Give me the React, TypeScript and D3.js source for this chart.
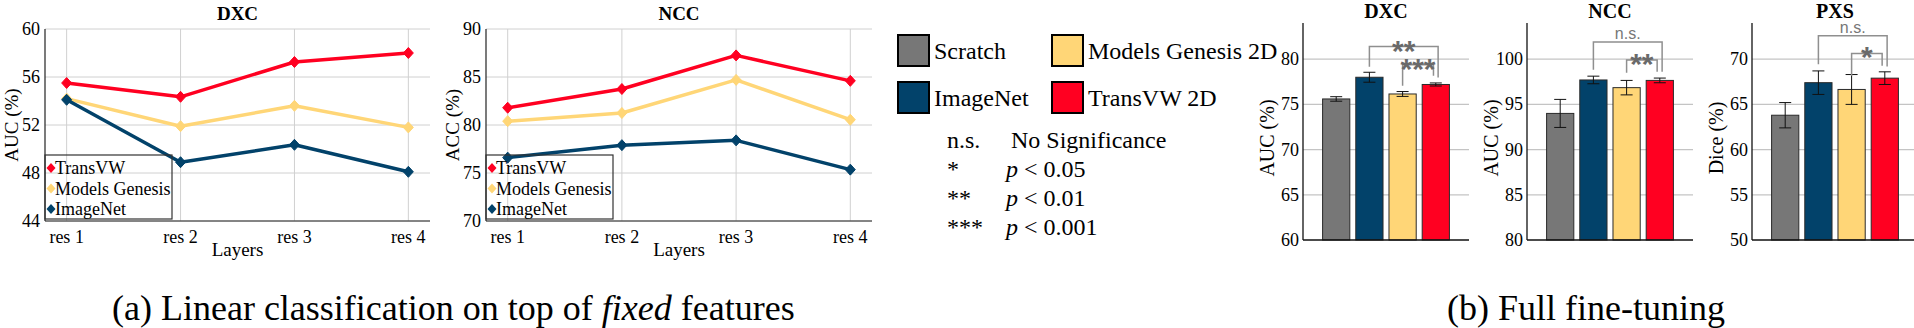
import * as d3 from "d3";

const SERIF = "'Liberation Serif', 'Times New Roman', serif";
const SANS = "'Liberation Sans', Arial, sans-serif";

const RED = "#ff0021";
const YELLOW = "#ffd677";
const NAVY = "#02426a";
const GRAY = "#777777";

// (a) linear classification on fixed features
const layers = ["res 1", "res 2", "res 3", "res 4"];
const dxcTransVW = [55.5, 54.35, 57.25, 58.0];
const dxcGenesis = [54.2, 51.9, 53.6, 51.8];
const dxcImageNet = [54.1, 48.9, 50.35, 48.1];
const nccTransVW = [81.8, 83.75, 87.25, 84.6];
const nccGenesis = [80.4, 81.25, 84.7, 80.55];
const nccImageNet = [76.6, 77.9, 78.4, 75.35];
const dxcLineTicks = [44, 48, 52, 56, 60];
const nccLineTicks = [70, 75, 80, 85, 90];

// (b) full fine-tuning
const methods = ["Scratch", "ImageNet", "Models Genesis 2D", "TransVW 2D"];
const methodColors = [GRAY, NAVY, YELLOW, RED];
const dxcBar = [75.6, 78.0, 76.15, 77.2];
const dxcErr = [0.25, 0.55, 0.27, 0.17];
const nccBar = [94.0, 97.7, 96.85, 97.65];
const nccErr = [1.55, 0.42, 0.8, 0.26];
const pxsBar = [63.8, 67.4, 66.65, 67.9];
const pxsErr = [1.4, 1.3, 1.65, 0.7];
const dxcBarTicks = [60, 65, 70, 75, 80];
const nccBarTicks = [80, 85, 90, 95, 100];
const pxsBarTicks = [50, 55, 60, 65, 70];

// brackets: bar index (1-based) of each leg, bracket level and leg ends in data units
const dxcSig = [
  { a: 2, b: 4.07, y: 81.4, ya: 79.16, yb: 77.98, label: "**" },
  { a: 3, b: 3.93, y: 79.38, ya: 77.07, yb: 78.17, label: "***" },
];
const nccSig = [
  { a: 2, b: 4.07, y: 101.9, ya: 98.83, yb: 98.6, label: "n.s." },
  { a: 3, b: 3.92, y: 99.9, ya: 98.5, yb: 98.6, label: "**" },
];
const pxsSig = [
  { a: 2, b: 4.07, y: 72.6, ya: 69.45, yb: 69.2, label: "n.s." },
  { a: 3, b: 3.92, y: 70.63, ya: 68.17, yb: 69.27, label: "*" },
];

const pValues = [
  ["n.s.", "No Significance"],
  ["*", "< 0.05"],
  ["**", "< 0.01"],
  ["***", "< 0.001"],
];

const diamond = (cx, cy, w = 5, h = 5.5) =>
  `M${cx},${cy - h}L${cx + w},${cy}L${cx},${cy + h}L${cx - w},${cy}Z`;

const LineChart = ({ left, right, title, ylabel, ticks, series }) => {
  const top = 29;
  const bottom = 221;
  const x = d3.scaleLinear().domain([0.81, 4.19]).range([left, right]);
  const y = d3
    .scaleLinear()
    .domain([ticks[0], ticks[ticks.length - 1]])
    .range([bottom, top]);
  const line = d3
    .line()
    .x((d, i) => x(i + 1))
    .y((d) => y(d));
  const legendTop = 155;
  return (
    <g>
      {ticks.map((t) => (
        <line key={"h" + t} x1={left} x2={right} y1={y(t)} y2={y(t)} stroke="#d0d0d0" strokeWidth={1} />
      ))}
      {layers.map((l, i) => (
        <line key={"v" + l} x1={x(i + 1)} x2={x(i + 1)} y1={top} y2={bottom} stroke="#d0d0d0" strokeWidth={1} />
      ))}
      <line x1={left} x2={left} y1={top} y2={bottom} stroke="#222" strokeWidth={1.2} />
      <line x1={left} x2={right} y1={bottom} y2={bottom} stroke="#222" strokeWidth={1.2} />
      {ticks.map((t) => (
        <text key={"t" + t} x={left - 5} y={y(t)} textAnchor="end" dominantBaseline="central" fontSize={18} fontFamily={SERIF}>
          {t}
        </text>
      ))}
      {layers.map((l, i) => (
        <text key={"l" + l} x={x(i + 1)} y={243} textAnchor="middle" fontSize={18} fontFamily={SERIF}>
          {l}
        </text>
      ))}
      <text x={(left + right) / 2} y={256} textAnchor="middle" fontSize={19} fontFamily={SERIF}>
        Layers
      </text>
      <text x={(left + right) / 2} y={20} textAnchor="middle" fontSize={19} fontWeight="bold" fontFamily={SERIF}>
        {title}
      </text>
      <text
        transform={`translate(${left - 34},${(top + bottom) / 2}) rotate(-90)`}
        textAnchor="middle"
        dominantBaseline="central"
        fontSize={19}
        fontFamily={SERIF}
      >
        {ylabel}
      </text>
      {series.map((s) => (
        <g key={s.name}>
          <path d={line(s.values)} fill="none" stroke={s.color} strokeWidth={3.5} strokeLinejoin="round" />
          {s.values.map((v, i) => (
            <path key={i} d={diamond(x(i + 1), y(v))} fill={s.color} stroke={s.color} strokeWidth={1} />
          ))}
        </g>
      ))}
      <rect x={left} y={legendTop} width={127} height={64} fill="none" stroke="#333" strokeWidth={1.2} />
      {series.map((s, i) => (
        <g key={"lg" + s.name}>
          <path d={diamond(left + 6, legendTop + 13 + i * 20.5, 4.5, 5)} fill={s.color} />
          <text x={left + 10} y={legendTop + 13 + i * 20.5} dominantBaseline="central" fontSize={18} fontFamily={SERIF}>
            {s.name}
          </text>
        </g>
      ))}
    </g>
  );
};

const BarChart = ({ left, title, ylabel, ticks, values, errs, sig }) => {
  const right = left + 166;
  const top = 23;
  const bottom = 240;
  const x = d3.scaleLinear().domain([0, 5]).range([left, right]);
  const y = d3
    .scaleLinear()
    .domain([ticks[0], ticks[0] + 24])
    .range([bottom, top]);
  const bw = x(0.82) - x(0);
  return (
    <g>
      {ticks.slice(1).map((t) => (
        <line key={"g" + t} x1={left} x2={right} y1={y(t)} y2={y(t)} stroke="#c4c4c4" strokeWidth={1.3} />
      ))}
      {ticks.map((t) => (
        <text key={"t" + t} x={left - 4} y={y(t)} textAnchor="end" dominantBaseline="central" fontSize={18} fontFamily={SERIF}>
          {t}
        </text>
      ))}
      {values.map((v, i) => (
        <rect
          key={"b" + i}
          x={x(i + 1) - bw / 2}
          y={y(v)}
          width={bw}
          height={bottom - y(v)}
          fill={methodColors[i]}
          stroke="#2a2a2a"
          strokeWidth={1}
        />
      ))}
      {values.map((v, i) => (
        <g key={"e" + i} stroke="#111" strokeWidth={1}>
          <line x1={x(i + 1)} x2={x(i + 1)} y1={y(v + errs[i])} y2={y(v - errs[i])} />
          <line x1={x(i + 1) - 6} x2={x(i + 1) + 6} y1={y(v + errs[i])} y2={y(v + errs[i])} />
          <line x1={x(i + 1) - 6} x2={x(i + 1) + 6} y1={y(v - errs[i])} y2={y(v - errs[i])} />
        </g>
      ))}
      <line x1={left} x2={left} y1={top} y2={bottom} stroke="#111" strokeWidth={1.3} />
      <line x1={left} x2={right} y1={bottom} y2={bottom} stroke="#111" strokeWidth={1.3} />
      {sig.map((s) => (
        <g key={s.label + s.a}>
          <path
            d={`M${x(s.a)},${y(s.ya)}V${y(s.y)}H${x(s.b)}V${y(s.yb)}`}
            fill="none"
            stroke="#8f8f8f"
            strokeWidth={1.5}
          />
          {s.label === "n.s." ? (
            <text x={(x(s.a) + x(s.b)) / 2} y={y(s.y) - 3} textAnchor="middle" fontSize={16} fill="#777" fontFamily={SANS}>
              {s.label}
            </text>
          ) : (
            <text
              x={(x(s.a) + x(s.b)) / 2}
              y={y(s.y) + 14}
              textAnchor="middle"
              fontSize={30}
              fontWeight="bold"
              fill="#6a6a6a"
              fontFamily={SANS}
            >
              {s.label}
            </text>
          )}
        </g>
      ))}
      <text x={(left + right) / 2} y={18} textAnchor="middle" fontSize={20} fontWeight="bold" fontFamily={SERIF}>
        {title}
      </text>
      <text
        transform={`translate(${left - 36},${138}) rotate(-90)`}
        textAnchor="middle"
        dominantBaseline="central"
        fontSize={20}
        fontFamily={SERIF}
      >
        {ylabel}
      </text>
    </g>
  );
};

const Legend = () => {
  const cols = [898, 1052];
  const rows = [35, 82];
  return (
    <g fontFamily={SERIF} fontSize={24}>
      {methods.map((m, i) => {
        const cx = cols[i >= 2 ? 1 : 0];
        const cy = rows[i % 2];
        return (
          <g key={m}>
            <rect x={cx} y={cy} width={31} height={31} fill={methodColors[i]} stroke="#000" strokeWidth={2} />
            <text x={cx + 36} y={cy + 24}>
              {m}
            </text>
          </g>
        );
      })}
      {pValues.map(([k, v], i) => (
        <g key={k}>
          <text x={947} y={148 + i * 29}>
            {k}
          </text>
          {i === 0 ? (
            <text x={1011} y={148}>
              {v}
            </text>
          ) : (
            <text x={1006} y={148 + i * 29}>
              <tspan fontStyle="italic">p</tspan> {v}
            </text>
          )}
        </g>
      ))}
    </g>
  );
};

export default function App() {
  return (
    <svg width={1914} height={328} style={{ position: "absolute", left: 0, top: 0, background: "#fff" }}>
      <rect width={1914} height={328} fill="#fff" />
      <LineChart
        left={45}
        right={430}
        title="DXC"
        ylabel="AUC (%)"
        ticks={dxcLineTicks}
        series={[
          { name: "TransVW", color: RED, values: dxcTransVW },
          { name: "Models Genesis", color: YELLOW, values: dxcGenesis },
          { name: "ImageNet", color: NAVY, values: dxcImageNet },
        ]}
      />
      <LineChart
        left={486}
        right={872}
        title="NCC"
        ylabel="ACC (%)"
        ticks={nccLineTicks}
        series={[
          { name: "TransVW", color: RED, values: nccTransVW },
          { name: "Models Genesis", color: YELLOW, values: nccGenesis },
          { name: "ImageNet", color: NAVY, values: nccImageNet },
        ]}
      />
      <Legend />
      <BarChart left={1303} title="DXC" ylabel="AUC (%)" ticks={dxcBarTicks} values={dxcBar} errs={dxcErr} sig={dxcSig} />
      <BarChart left={1527} title="NCC" ylabel="AUC (%)" ticks={nccBarTicks} values={nccBar} errs={nccErr} sig={nccSig} />
      <BarChart left={1752} title="PXS" ylabel="Dice (%)" ticks={pxsBarTicks} values={pxsBar} errs={pxsErr} sig={pxsSig} />
      <text x={112} y={320} fontSize={36} fontFamily={SERIF}>
        (a) Linear classification on top of <tspan fontStyle="italic">fixed</tspan> features
      </text>
      <text x={1447} y={320} fontSize={36} fontFamily={SERIF}>
        (b) Full fine-tuning
      </text>
    </svg>
  );
}
